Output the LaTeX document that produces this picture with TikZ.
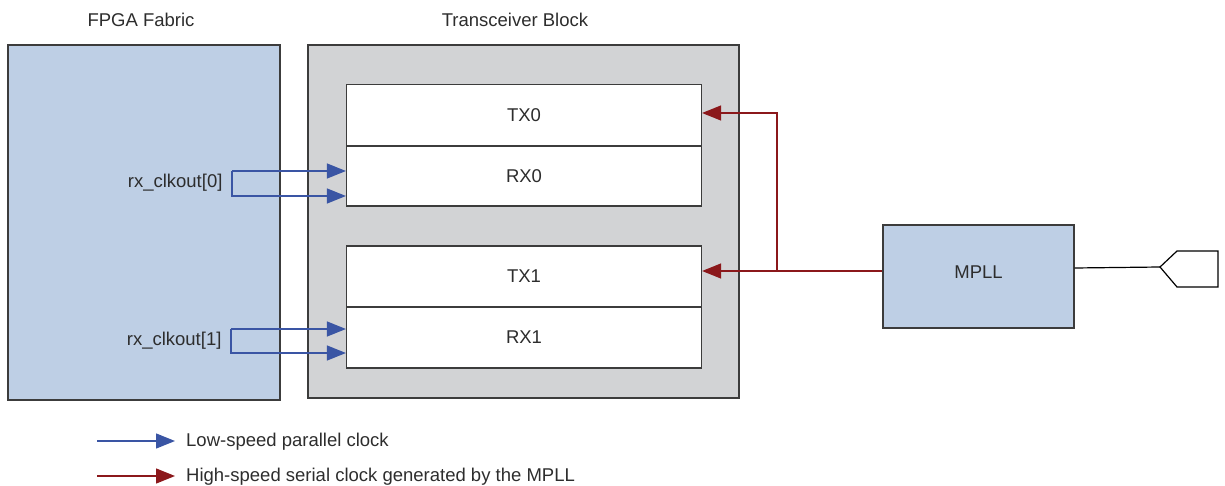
\documentclass[tikz,border=0pt]{standalone}
\usepackage{fontspec}
\setmainfont{Liberation Sans}
\usetikzlibrary{arrows.meta,positioning,calc}

\definecolor{fabricblue}{RGB}{190,207,229}
\definecolor{blockgray}{RGB}{210,211,213}
\definecolor{clkblue}{RGB}{58,85,164}
\definecolor{clkred}{RGB}{139,24,27}
\definecolor{edgegray}{RGB}{60,60,60}
\definecolor{inkgray}{RGB}{45,45,45}

\begin{document}
\begin{tikzpicture}[x=1pt,y=-1pt,font=\fontsize{18.5}{22}\selectfont,text=inkgray,
  box/.style={draw=edgegray,line width=1.2pt,inner sep=0pt},
  lane/.style={box,fill=white,minimum width=355pt,minimum height=61pt},
  slowclk/.style={draw=clkblue,line width=1.3pt,-{Triangle[length=19pt,width=15pt]}},
  fastclk/.style={draw=clkred,line width=1.3pt,-{Triangle[length=19pt,width=15pt]}}]

\useasboundingbox (0,0) rectangle (1225,486);

% fabric and transceiver block
\node[box,fill=fabricblue,minimum width=272pt,minimum height=355pt] (fabric) at (144,222.5) {};
\node (fabriclbl) at (141,20) {FPGA Fabric};
\node[box,fill=blockgray,minimum width=431pt,minimum height=353pt] (xcvr) at (523.5,221.5) {};
\node (xcvrlbl) at (515,20) {Transceiver Block};

% channels
\node[lane] (tx0) at (524,115) {TX0};
\node[lane,minimum height=60pt] (rx0) at (524,176) {RX0};
\node[lane] (tx1) at (524,276.5) {TX1};
\node[lane] (rx1) at (524,337.5) {RX1};

% mpll and input pin
\node[box,fill=fabricblue,minimum width=191pt,minimum height=103pt] (mpll) at (978.5,276.5) {};
\node (mplllbl) at (978.5,272) {MPLL};
\coordinate (pin) at (1160,267);
\draw[line width=1.2pt] (pin) -- ++(17,-16) -- ++(41,0) -- ++(0,36) -- ++(-41,0) -- cycle;
\draw[line width=1.2pt] (mpll.east |- 0,268) -- (pin);

% high-speed serial clock
\coordinate (split) at (777,271);
\draw[fastclk] (mpll.west |- split) -- (split) -- (tx1.east |- split);
\draw[fastclk] (split) -- (777,113) -- (tx0.east |- 0,113);

% low-speed parallel clocks
\node[anchor=east] (clk0) at (226,183) {rx\_clkout[0]};
\coordinate (fork0) at (232,171);
\draw[slowclk] (fork0) -- (rx0.west |- fork0);
\draw[slowclk] (fork0) -- (232,196) -- (rx0.west |- 0,196);

\node[anchor=east] (clk1) at (225,341) {rx\_clkout[1]};
\coordinate (fork1) at (231,329);
\draw[slowclk] (fork1) -- (rx1.west |- fork1);
\draw[slowclk] (fork1) -- (231,353) -- (rx1.west |- 0,353);

% legend
\coordinate (legA) at (97,441);
\node[anchor=west,inner sep=0pt] (legslow) at (186,442) {Low-speed parallel clock};
\draw[slowclk,shorten >=11pt] (legA) -- (legslow.west |- legA);
\coordinate (legB) at (97,476);
\node[anchor=west,inner sep=0pt] (legfast) at (186,477) {High-speed serial clock generated by the MPLL};
\draw[fastclk,shorten >=11pt] (legB) -- (legfast.west |- legB);

\end{tikzpicture}
\end{document}
